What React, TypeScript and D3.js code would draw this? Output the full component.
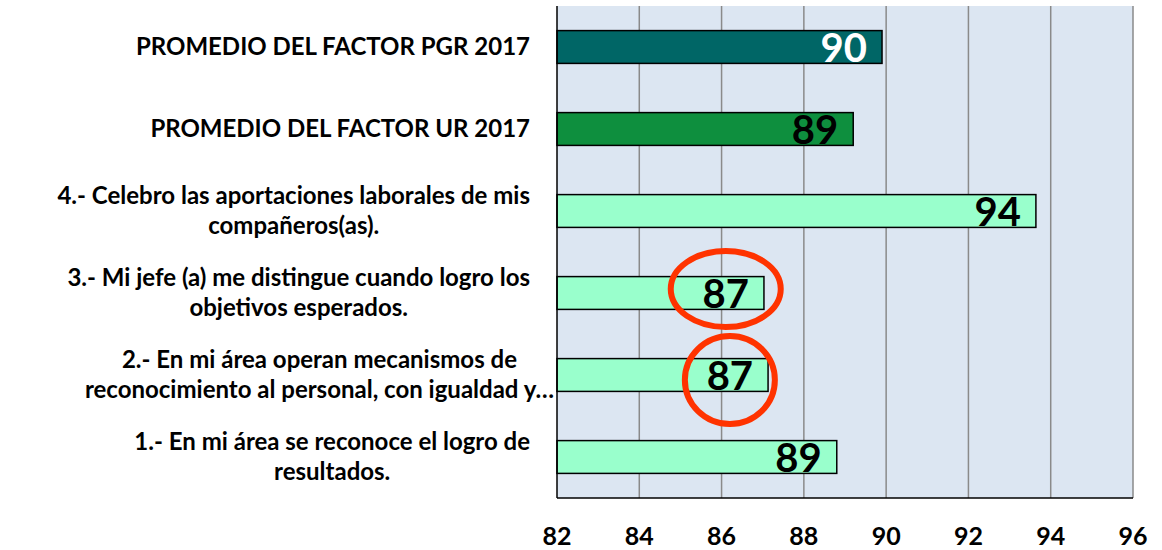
import { useEffect, useRef } from 'react';
import * as d3 from 'd3';

const categories = [
  'PROMEDIO DEL FACTOR PGR 2017',
  'PROMEDIO DEL FACTOR UR 2017',
  '4.- Celebro las aportaciones laborales de mis|compañeros(as).',
  '3.- Mi jefe (a) me distingue cuando logro los|objetivos esperados.',
  '2.- En mi área operan mecanismos de|reconocimiento al personal, con igualdad y…',
  '1.- En mi área se reconoce el logro de|resultados.',
];
const values = [89.9, 89.2, 93.64, 87.03, 87.13, 88.8];
const barColors = ['#006666', '#0E8F3E', '#99FFCC', '#99FFCC', '#99FFCC', '#99FFCC'];
const labelColors = ['#ffffff', '#000000', '#000000', '#000000', '#000000', '#000000'];
const xTicks = [82, 84, 86, 88, 90, 92, 94, 96];
// circled values (annotation)
const circled = [
  { idx: 3, rx: 55, ry: 38, dy: -4 },
  { idx: 4, rx: 45, ry: 44, dy: 5 },
];

export default function App() {
  const svgRef = useRef<SVGSVGElement>(null);

  useEffect(() => {
    if (!svgRef.current) return;
    const svg = d3.select(svgRef.current);
    svg.selectAll('*').remove();

    const left = 557, right = 1133, top = 6, bottom = 498;
    const font = 'Lato, "Open Sans", sans-serif';

    const x = d3.scaleLinear().domain([82, 96]).range([left, right]);
    const y = d3.scaleBand<number>()
      .domain(d3.range(categories.length))
      .range([top, bottom])
      .paddingInner(0.6)
      .paddingOuter(0.3);

    // plot background
    svg.append('rect')
      .attr('x', left).attr('y', top)
      .attr('width', right - left).attr('height', bottom - top)
      .attr('fill', '#DCE6F2');

    // gridlines
    svg.append('g').selectAll('line')
      .data(xTicks.slice(1))
      .join('line')
      .attr('x1', d => x(d)).attr('x2', d => x(d))
      .attr('y1', top).attr('y2', bottom)
      .attr('stroke', '#8a8a8a')
      .attr('stroke-width', 1.5);

    // bars
    svg.append('g').selectAll('rect')
      .data(values)
      .join('rect')
      .attr('x', x(82))
      .attr('y', (_, i) => y(i)!)
      .attr('width', d => x(d) - x(82))
      .attr('height', y.bandwidth())
      .attr('fill', (_, i) => barColors[i])
      .attr('stroke', '#000')
      .attr('stroke-width', 1.5);

    // axes lines
    svg.append('line')
      .attr('x1', left).attr('x2', left).attr('y1', top).attr('y2', bottom)
      .attr('stroke', '#000').attr('stroke-width', 1.5);
    svg.append('line')
      .attr('x1', left).attr('x2', right).attr('y1', bottom).attr('y2', bottom)
      .attr('stroke', '#000').attr('stroke-width', 1.5);

    // tick labels
    svg.append('g').selectAll('text')
      .data(xTicks)
      .join('text')
      .attr('x', d => x(d))
      .attr('y', 545)
      .attr('text-anchor', 'middle')
      .attr('font-family', font)
      .attr('font-weight', 700)
      .attr('font-size', 25)
      .attr('fill', '#000')
      .text(d => d);

    // value labels
    const vals = svg.append('g').selectAll('text')
      .data(values)
      .join('text')
      .attr('x', d => x(d) - 15)
      .attr('y', (_, i) => y(i)! + y.bandwidth() / 2 + 15)
      .attr('text-anchor', 'end')
      .attr('font-family', font)
      .attr('font-weight', 700)
      .attr('font-size', 40)
      .attr('fill', (_, i) => labelColors[i])
      .text(d => Math.round(d));

    // category labels, lines centred inside a block right-aligned to the axis
    const catG = svg.append('g');
    categories.forEach((c, i) => {
      const lines = c.split('|');
      const lh = 30;
      const cy = y(i)! + y.bandwidth() / 2;
      const t = catG.append('text')
        .attr('font-family', font)
        .attr('font-weight', 700)
        .attr('font-size', 24)
        .attr('fill', '#000')
        .attr('text-anchor', 'middle');
      const spans = lines.map((l, k) =>
        t.append('tspan')
          .attr('y', cy + (k - (lines.length - 1) / 2) * lh + 8)
          .text(l));
      const w = d3.max(spans, s => (s.node() as SVGTSpanElement).getComputedTextLength()) || 0;
      // truncated labels run right up to the axis
      const blockRight = c.endsWith('…') ? left - 3 : 530;
      spans.forEach(s => s.attr('x', blockRight - w / 2));
    });

    // red circles around highlighted values
    const valNodes = vals.nodes() as SVGTextElement[];
    circled.forEach(c => {
      const bb = valNodes[c.idx].getBBox();
      svg.append('ellipse')
        .attr('cx', bb.x + bb.width / 2)
        .attr('cy', y(c.idx)! + y.bandwidth() / 2 + c.dy)
        .attr('rx', c.rx)
        .attr('ry', c.ry)
        .attr('fill', 'none')
        .attr('stroke', '#FF3300')
        .attr('stroke-width', 6);
    });
  }, []);

  return (
    <svg
      ref={svgRef}
      width={1162}
      height={550}
      style={{ position: 'absolute', left: 0, top: 0, background: '#fff' }}
    />
  );
}
